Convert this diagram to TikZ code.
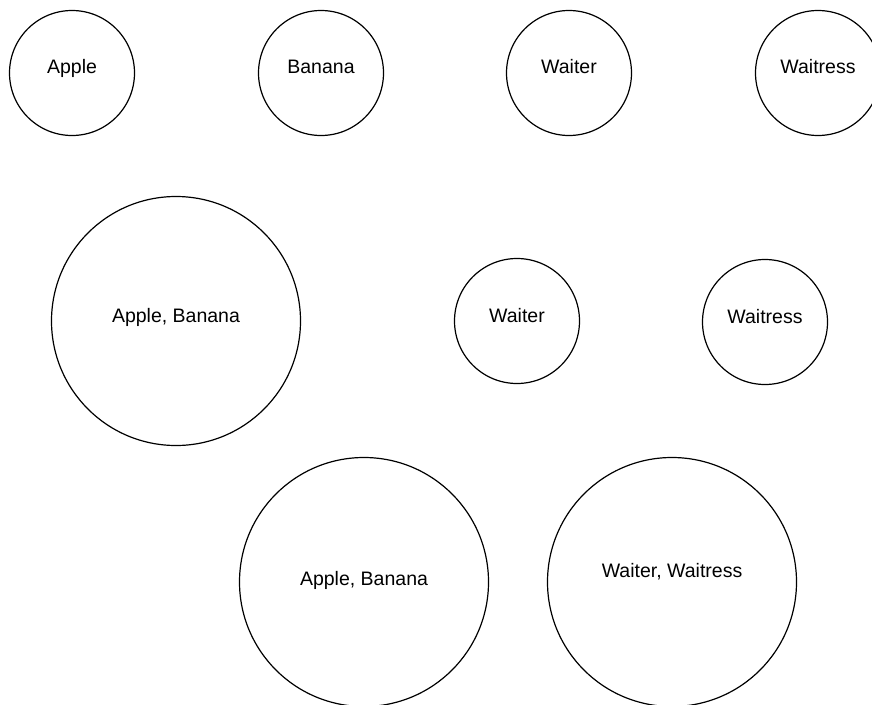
\documentclass[tikz,border=0pt]{standalone}
\usepackage{fontspec}
\setmainfont{Liberation Sans}
\begin{document}
\begin{tikzpicture}[
  x=1pt, y=-1pt,
  small/.style={draw, circle, line width=1.2pt, inner sep=0pt, minimum size=125pt, text height=10pt, text depth=10pt, font=\fontsize{19.5}{23}\selectfont},
  big/.style={small, minimum size=249pt}
]
\useasboundingbox (0,0) rectangle (872,704);
\clip (0,0) rectangle (872,704);
\node[small] (apple) at (72,73) {Apple};
\node[small] (banana) at (321,73) {Banana};
\node[small] (waiter) at (569,73) {Waiter};
\node[small] (waitress) at (818,73) {Waitress};
\node[big, text height=11pt, text depth=9pt] (applebanana) at (176,321) {Apple, Banana};
\node[small, text height=11pt, text depth=9pt] (waitertwo) at (517,321) {Waiter};
\node[small, text height=11pt, text depth=9pt] (waitresstwo) at (765,322) {Waitress};
\node[big, text height=13pt, text depth=7pt] (applebananatwo) at (364,582) {Apple, Banana};
\node[big, text height=5pt, text depth=15pt] (waiterwaitress) at (672,582) {Waiter, Waitress};
\end{tikzpicture}
\end{document}
